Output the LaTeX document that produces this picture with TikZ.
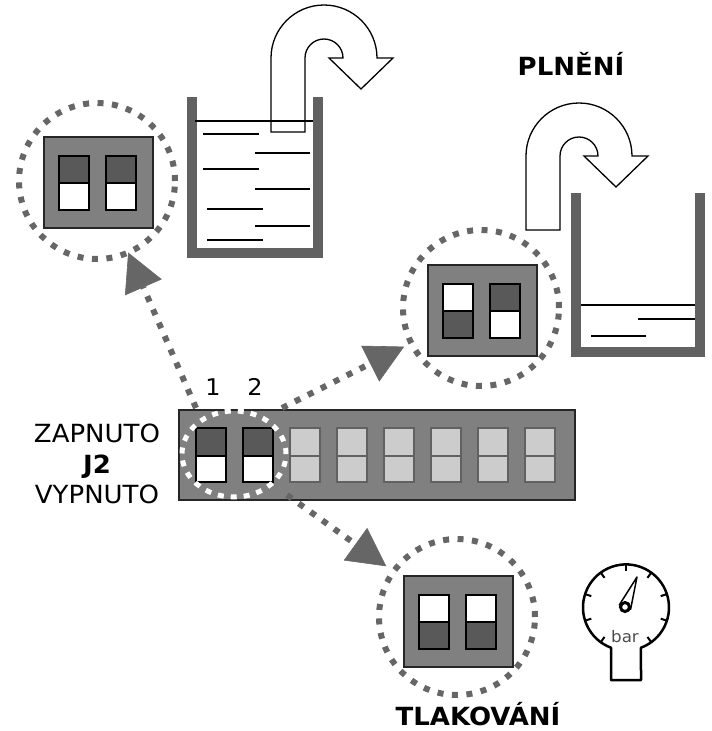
\documentclass[tikz,border=0pt]{standalone}
\usepackage{fontspec}
\newfontfamily\lblfont[FakeStretch=1.04]{DejaVu Sans}
\usetikzlibrary{arrows.meta,shapes.geometric}

\definecolor{boxgray}{gray}{0.50}
\definecolor{swdark}{gray}{0.35}
\definecolor{swlight}{gray}{0.80}
\definecolor{swedge}{gray}{0.38}
\definecolor{dotgray}{gray}{0.40}
\definecolor{wallgray}{gray}{0.38}

\tikzset{
  wall/.style={draw=wallgray, line width=10pt, line join=miter},
  water/.style={draw=black, line width=1.4pt},
  pipeline/.style={draw=black, line width=1.3pt, fill=white, line join=miter},
  ring/.style={circle, draw=dotgray, line width=6pt, dash pattern=on 6pt off 8.5pt,
    minimum size=156pt, inner sep=0pt, outer sep=0pt},
  conn/.style={draw=dotgray, line width=6pt, dash pattern=on 6pt off 8.5pt,
    -{Triangle[length=38pt,width=40pt,line width=0.6pt]}},
  boxframe/.style={draw=black!85, line width=2pt, fill=boxgray},
  swframe/.style={draw=black, line width=1.3pt},
  swoff/.style={draw=swedge, line width=1.5pt, fill=swlight},
  lbl/.style={font=\lblfont\fontsize{25}{30}\selectfont, inner sep=0pt, anchor=base},
  lblb/.style={font=\lblfont\fontsize{25}{30}\bfseries\selectfont, inner sep=0pt, anchor=base},
  digit/.style={font=\lblfont\fontsize{23}{27}\selectfont, inner sep=0pt, anchor=base},
  gauge/.style={draw=black, line width=2.5pt, line join=round},
  gtick/.style={draw=black, line width=2pt},
  pics/dipbox/.style n args={4}{code={
    \draw[boxframe] (0,0) rectangle (109,91);
    \draw[swframe, fill=#1] (15,19) rectangle (45,46);
    \draw[swframe, fill=#2] (15,46) rectangle (45,73);
    \draw[swframe, fill=#3] (62,19) rectangle (92,46);
    \draw[swframe, fill=#4] (62,46) rectangle (92,73);
  }},
  pics/uturn/.style={code={
    \draw[pipeline] (-53,74) -- (-53,0) arc[start angle=180, end angle=360, radius=53]
      -- (69,0) -- (37,31) -- (5,0) -- (19,0)
      arc[start angle=360, end angle=180, radius=19] -- (-19,74) -- cycle;
  }},
}

\begin{document}
\begin{tikzpicture}[x=1pt, y=-1pt]
\useasboundingbox (0,0) rectangle (712,731);

% full tank with its draining pipe
\draw[wall] (192,97) |- (318,253) -- (318,97);
\pic at (324,58) {uturn};
\foreach \yy/\xa/\xb in {121/195/313, 134/203/259, 153/255/310, 169/203/259,
                         189/255/310, 209/207/263, 226/255/310, 240/207/263}
  \draw[water] (\xa,\yy) -- (\xb,\yy);

% tank being filled
\draw[wall] (576,193) |- (700,352) -- (700,193);
\pic at (579,156) {uturn};
\foreach \yy/\xa/\xb in {305/581/695, 319/638/695, 336/591/646}
  \draw[water] (\xa,\yy) -- (\xb,\yy);

% switch settings
\pic at (44,137) {dipbox={swdark}{white}{swdark}{white}};
\pic at (428,265) {dipbox={white}{swdark}{swdark}{white}};
\pic at (404,576) {dipbox={white}{swdark}{white}{swdark}};

\node[ring] (c1) at (97,181) {};
\node[ring] (c2) at (481,308) {};
\node[ring] (c3) at (457,617) {};

% J2 switch block
\node[boxframe, rectangle, minimum width=396pt, minimum height=90pt,
      inner sep=0pt, outer sep=0pt, anchor=north west] (j2) at (179,410) {};
\foreach \xs in {196,243} {
  \draw[swframe, fill=swdark] (\xs,428) rectangle ++(30,28);
  \draw[swframe, fill=white] (\xs,456) rectangle ++(30,26);
}
\foreach \xs in {290,337,...,525} {
  \draw[swoff] (\xs,428) rectangle ++(30,28);
  \draw[swoff] (\xs,456) rectangle ++(30,26);
}
\node[ellipse, draw=white, line width=5pt, dash pattern=on 6pt off 7pt,
      minimum width=104pt, minimum height=86pt, inner sep=0pt] (sel) at (234,454) {};

% connectors to the three settings
\coordinate (t1) at (196,408);
\coordinate (t2) at (282,408);
\coordinate (t3) at (287,495);
\draw[conn] (t1) -- (c1);
\draw[conn, shorten >=8pt] (t2) -- (c2);
\draw[conn, shorten >=9pt] (t3) -- (c3);

% labels
\node[digit] (n1) at (213,395) {1};
\node[digit] (n2) at (255,395) {2};
\node[lbl] (zap) at (97,442) {ZAPNUTO};
\node[lblb] (jname) at (97,473) {J2};
\node[lbl] (vyp) at (97,503) {VYPNUTO};
\node[lblb] (fill) at (571,75) {PLNĚNÍ};
\node[lblb] (press) at (478,725) {TLAKOVÁNÍ};

% pressure gauge
\draw[gauge] (611,680) -- (611,647.7) arc[start angle=110.4, end angle=429.6, radius=43]
  -- (641,680) -- cycle;
\foreach \a in {126,162,198,234,270,306,342,378,414}
  \draw[gtick] (626,607.4) ++(\a:36.5) -- ++(\a:6.5);
\draw[line width=1.5pt, fill=white, line join=round]
  (619.4,604.8) -- (637,577) -- (630.6,609.2) -- cycle;
\draw[line width=3pt, fill=white] (625,607) circle[radius=4.5];
\node[font=\lblfont\fontsize{16}{18}\selectfont, text=black!70, inner sep=0pt, anchor=base]
  (unit) at (625,642) {bar};
\end{tikzpicture}
\end{document}
